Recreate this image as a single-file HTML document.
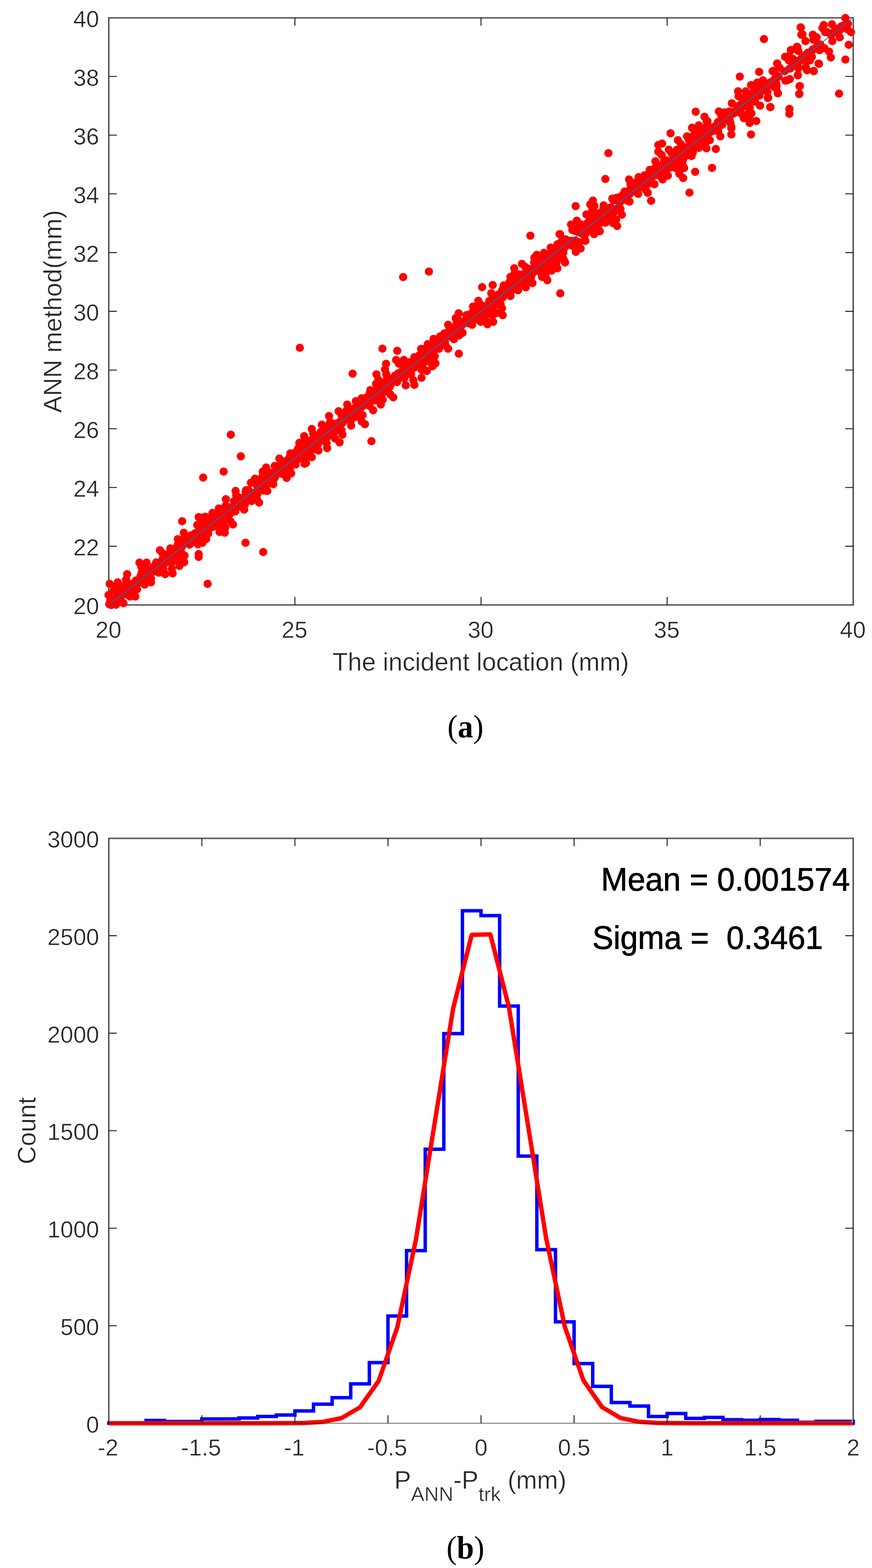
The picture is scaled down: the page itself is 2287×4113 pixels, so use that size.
<!DOCTYPE html>
<html lang="en"><head><meta charset="utf-8"><title>ANN method vs incident location</title>
<style>html,body{margin:0;padding:0;background:#fff}body{width:2287px;height:4113px;overflow:hidden}svg{display:block}text{font-family:"Liberation Sans",Arial,Helvetica,sans-serif;fill:#262626}.t{font-size:61px;stroke:#fff;stroke-width:.7px}.l{font-size:66px;stroke:#fff;stroke-width:.7px}.n{font-size:86px;fill:#000;stroke:#000;stroke-width:1.2px}.c{font-family:"Liberation Serif","DejaVu Serif",serif;fill:#000;font-size:84px}</style></head><body>
<svg width="2287" height="4113" viewBox="0 0 2287 4113">
<rect width="2287" height="4113" fill="#fff"/>
<g id="plot-a">
<path d="M285.35 48.80H2236.45" stroke="#b4b4b4" stroke-width="2.2" fill="none"/>
<path d="M282.85 45.00V1577.90" stroke="#ececec" stroke-width="2.4" fill="none"/>
<path d="M2235.35 47.80V1585.50" stroke="#e4e4e4" stroke-width="2.4" fill="none"/>
<g stroke="#262626" stroke-width="2.8" fill="none">
<path d="M283.95 46.40H2239.25" stroke="#4a4a4a"/>
<path d="M285.35 46.40V1588.30M2237.85 46.40V1588.30"/>
<path d="M285.35 1586.90H2237.85"/>
<path d="M773.48 1586.90v-21M773.48 46.40v21M1261.60 1586.90v-21M1261.60 46.40v21M1749.72 1586.90v-21M1749.72 46.40v21M285.35 1432.85h21M2237.85 1432.85h-21M285.35 1278.80h21M2237.85 1278.80h-21M285.35 1124.75h21M2237.85 1124.75h-21M285.35 970.70h21M2237.85 970.70h-21M285.35 816.65h21M2237.85 816.65h-21M285.35 662.60h21M2237.85 662.60h-21M285.35 508.55h21M2237.85 508.55h-21M285.35 354.50h21M2237.85 354.50h-21M285.35 200.45h21M2237.85 200.45h-21" stroke-width="2.6"/>
</g>
<g fill="#ff0000">
<circle cx="286.5" cy="1584.7" r="10.7"/>
<circle cx="289.0" cy="1575.3" r="10.7"/>
<circle cx="291.7" cy="1586.9" r="10.7"/>
<circle cx="297.0" cy="1585.0" r="10.7"/>
<circle cx="297.8" cy="1582.1" r="10.7"/>
<circle cx="302.0" cy="1572.7" r="10.7"/>
<circle cx="304.8" cy="1568.7" r="10.7"/>
<circle cx="307.2" cy="1561.4" r="10.7"/>
<circle cx="307.7" cy="1557.4" r="10.7"/>
<circle cx="309.8" cy="1564.0" r="10.7"/>
<circle cx="312.7" cy="1564.7" r="10.7"/>
<circle cx="315.2" cy="1574.8" r="10.7"/>
<circle cx="318.2" cy="1563.2" r="10.7"/>
<circle cx="321.6" cy="1543.5" r="10.7"/>
<circle cx="323.2" cy="1555.3" r="10.7"/>
<circle cx="326.0" cy="1546.7" r="10.7"/>
<circle cx="329.3" cy="1554.5" r="10.7"/>
<circle cx="331.7" cy="1559.1" r="10.7"/>
<circle cx="332.5" cy="1535.9" r="10.7"/>
<circle cx="334.7" cy="1547.0" r="10.7"/>
<circle cx="338.5" cy="1548.9" r="10.7"/>
<circle cx="340.0" cy="1549.7" r="10.7"/>
<circle cx="343.8" cy="1532.3" r="10.7"/>
<circle cx="346.0" cy="1546.2" r="10.7"/>
<circle cx="348.6" cy="1537.0" r="10.7"/>
<circle cx="350.0" cy="1546.4" r="10.7"/>
<circle cx="351.4" cy="1533.5" r="10.7"/>
<circle cx="355.2" cy="1533.2" r="10.7"/>
<circle cx="356.3" cy="1522.7" r="10.7"/>
<circle cx="359.4" cy="1545.6" r="10.7"/>
<circle cx="361.3" cy="1523.0" r="10.7"/>
<circle cx="364.1" cy="1527.8" r="10.7"/>
<circle cx="367.8" cy="1524.0" r="10.7"/>
<circle cx="368.8" cy="1510.5" r="10.7"/>
<circle cx="371.2" cy="1515.0" r="10.7"/>
<circle cx="375.0" cy="1526.4" r="10.7"/>
<circle cx="375.9" cy="1526.4" r="10.7"/>
<circle cx="379.1" cy="1514.8" r="10.7"/>
<circle cx="382.9" cy="1518.0" r="10.7"/>
<circle cx="384.9" cy="1501.1" r="10.7"/>
<circle cx="385.9" cy="1503.5" r="10.7"/>
<circle cx="389.9" cy="1501.4" r="10.7"/>
<circle cx="392.7" cy="1498.5" r="10.7"/>
<circle cx="393.3" cy="1500.8" r="10.7"/>
<circle cx="396.0" cy="1517.6" r="10.7"/>
<circle cx="398.3" cy="1501.8" r="10.7"/>
<circle cx="401.5" cy="1497.3" r="10.7"/>
<circle cx="403.1" cy="1485.9" r="10.7"/>
<circle cx="406.0" cy="1485.7" r="10.7"/>
<circle cx="409.7" cy="1475.2" r="10.7"/>
<circle cx="411.9" cy="1488.4" r="10.7"/>
<circle cx="412.7" cy="1499.4" r="10.7"/>
<circle cx="416.7" cy="1502.1" r="10.7"/>
<circle cx="417.8" cy="1488.8" r="10.7"/>
<circle cx="421.9" cy="1495.1" r="10.7"/>
<circle cx="422.5" cy="1482.6" r="10.7"/>
<circle cx="425.5" cy="1469.7" r="10.7"/>
<circle cx="427.2" cy="1465.1" r="10.7"/>
<circle cx="431.1" cy="1478.4" r="10.7"/>
<circle cx="432.4" cy="1477.2" r="10.7"/>
<circle cx="434.9" cy="1456.3" r="10.7"/>
<circle cx="437.1" cy="1466.4" r="10.7"/>
<circle cx="439.7" cy="1461.3" r="10.7"/>
<circle cx="442.9" cy="1471.2" r="10.7"/>
<circle cx="444.7" cy="1449.7" r="10.7"/>
<circle cx="448.7" cy="1458.6" r="10.7"/>
<circle cx="449.5" cy="1459.2" r="10.7"/>
<circle cx="452.4" cy="1461.1" r="10.7"/>
<circle cx="454.7" cy="1455.7" r="10.7"/>
<circle cx="457.6" cy="1457.7" r="10.7"/>
<circle cx="460.8" cy="1455.8" r="10.7"/>
<circle cx="463.5" cy="1437.5" r="10.7"/>
<circle cx="464.9" cy="1431.8" r="10.7"/>
<circle cx="466.3" cy="1446.1" r="10.7"/>
<circle cx="470.6" cy="1441.2" r="10.7"/>
<circle cx="472.5" cy="1441.3" r="10.7"/>
<circle cx="474.8" cy="1436.9" r="10.7"/>
<circle cx="476.9" cy="1434.7" r="10.7"/>
<circle cx="480.6" cy="1423.8" r="10.7"/>
<circle cx="480.8" cy="1416.3" r="10.7"/>
<circle cx="485.2" cy="1424.3" r="10.7"/>
<circle cx="487.3" cy="1422.3" r="10.7"/>
<circle cx="490.2" cy="1407.5" r="10.7"/>
<circle cx="491.2" cy="1415.6" r="10.7"/>
<circle cx="494.9" cy="1418.4" r="10.7"/>
<circle cx="497.2" cy="1428.7" r="10.7"/>
<circle cx="499.2" cy="1407.9" r="10.7"/>
<circle cx="501.1" cy="1404.3" r="10.7"/>
<circle cx="502.8" cy="1408.3" r="10.7"/>
<circle cx="506.6" cy="1421.0" r="10.7"/>
<circle cx="508.4" cy="1410.0" r="10.7"/>
<circle cx="511.7" cy="1398.5" r="10.7"/>
<circle cx="514.4" cy="1400.7" r="10.7"/>
<circle cx="515.0" cy="1405.7" r="10.7"/>
<circle cx="518.7" cy="1400.2" r="10.7"/>
<circle cx="520.8" cy="1403.1" r="10.7"/>
<circle cx="523.3" cy="1415.2" r="10.7"/>
<circle cx="526.0" cy="1404.1" r="10.7"/>
<circle cx="527.0" cy="1392.4" r="10.7"/>
<circle cx="530.1" cy="1390.7" r="10.7"/>
<circle cx="532.3" cy="1385.8" r="10.7"/>
<circle cx="536.5" cy="1382.7" r="10.7"/>
<circle cx="538.9" cy="1377.3" r="10.7"/>
<circle cx="540.0" cy="1382.5" r="10.7"/>
<circle cx="542.7" cy="1377.9" r="10.7"/>
<circle cx="546.0" cy="1399.7" r="10.7"/>
<circle cx="547.4" cy="1369.1" r="10.7"/>
<circle cx="550.4" cy="1375.5" r="10.7"/>
<circle cx="552.6" cy="1381.2" r="10.7"/>
<circle cx="555.9" cy="1383.0" r="10.7"/>
<circle cx="558.6" cy="1357.9" r="10.7"/>
<circle cx="559.4" cy="1376.3" r="10.7"/>
<circle cx="561.8" cy="1378.8" r="10.7"/>
<circle cx="564.1" cy="1354.4" r="10.7"/>
<circle cx="567.2" cy="1372.0" r="10.7"/>
<circle cx="569.2" cy="1378.7" r="10.7"/>
<circle cx="572.0" cy="1344.6" r="10.7"/>
<circle cx="573.4" cy="1361.7" r="10.7"/>
<circle cx="577.5" cy="1354.2" r="10.7"/>
<circle cx="579.6" cy="1348.0" r="10.7"/>
<circle cx="580.7" cy="1371.1" r="10.7"/>
<circle cx="583.4" cy="1349.5" r="10.7"/>
<circle cx="587.6" cy="1349.1" r="10.7"/>
<circle cx="588.6" cy="1349.7" r="10.7"/>
<circle cx="592.0" cy="1347.5" r="10.7"/>
<circle cx="594.0" cy="1333.0" r="10.7"/>
<circle cx="597.3" cy="1329.7" r="10.7"/>
<circle cx="600.1" cy="1335.8" r="10.7"/>
<circle cx="601.4" cy="1331.2" r="10.7"/>
<circle cx="603.1" cy="1348.0" r="10.7"/>
<circle cx="606.8" cy="1334.1" r="10.7"/>
<circle cx="607.9" cy="1331.0" r="10.7"/>
<circle cx="611.7" cy="1339.0" r="10.7"/>
<circle cx="613.7" cy="1314.7" r="10.7"/>
<circle cx="615.8" cy="1314.6" r="10.7"/>
<circle cx="619.2" cy="1327.2" r="10.7"/>
<circle cx="622.0" cy="1318.8" r="10.7"/>
<circle cx="623.9" cy="1327.6" r="10.7"/>
<circle cx="626.1" cy="1326.4" r="10.7"/>
<circle cx="629.3" cy="1305.9" r="10.7"/>
<circle cx="631.6" cy="1323.2" r="10.7"/>
<circle cx="633.9" cy="1322.9" r="10.7"/>
<circle cx="635.9" cy="1306.3" r="10.7"/>
<circle cx="637.3" cy="1305.8" r="10.7"/>
<circle cx="640.8" cy="1314.7" r="10.7"/>
<circle cx="642.2" cy="1323.5" r="10.7"/>
<circle cx="645.4" cy="1285.6" r="10.7"/>
<circle cx="648.5" cy="1290.6" r="10.7"/>
<circle cx="651.1" cy="1292.6" r="10.7"/>
<circle cx="651.6" cy="1285.6" r="10.7"/>
<circle cx="655.8" cy="1299.4" r="10.7"/>
<circle cx="657.5" cy="1312.0" r="10.7"/>
<circle cx="658.9" cy="1295.5" r="10.7"/>
<circle cx="663.2" cy="1293.2" r="10.7"/>
<circle cx="665.6" cy="1295.3" r="10.7"/>
<circle cx="666.4" cy="1293.7" r="10.7"/>
<circle cx="670.3" cy="1293.3" r="10.7"/>
<circle cx="673.0" cy="1271.7" r="10.7"/>
<circle cx="674.6" cy="1296.8" r="10.7"/>
<circle cx="676.1" cy="1280.9" r="10.7"/>
<circle cx="679.0" cy="1288.9" r="10.7"/>
<circle cx="682.5" cy="1265.4" r="10.7"/>
<circle cx="685.2" cy="1261.7" r="10.7"/>
<circle cx="687.0" cy="1266.1" r="10.7"/>
<circle cx="690.1" cy="1277.0" r="10.7"/>
<circle cx="692.7" cy="1270.8" r="10.7"/>
<circle cx="695.3" cy="1264.4" r="10.7"/>
<circle cx="696.8" cy="1266.2" r="10.7"/>
<circle cx="699.0" cy="1272.8" r="10.7"/>
<circle cx="701.7" cy="1259.0" r="10.7"/>
<circle cx="703.7" cy="1261.6" r="10.7"/>
<circle cx="707.1" cy="1242.9" r="10.7"/>
<circle cx="709.3" cy="1247.8" r="10.7"/>
<circle cx="710.2" cy="1241.2" r="10.7"/>
<circle cx="714.8" cy="1245.5" r="10.7"/>
<circle cx="717.2" cy="1244.8" r="10.7"/>
<circle cx="717.7" cy="1257.6" r="10.7"/>
<circle cx="720.8" cy="1252.3" r="10.7"/>
<circle cx="723.4" cy="1234.3" r="10.7"/>
<circle cx="725.1" cy="1222.4" r="10.7"/>
<circle cx="727.4" cy="1222.1" r="10.7"/>
<circle cx="731.4" cy="1241.7" r="10.7"/>
<circle cx="732.5" cy="1235.1" r="10.7"/>
<circle cx="736.1" cy="1227.0" r="10.7"/>
<circle cx="738.4" cy="1238.3" r="10.7"/>
<circle cx="739.6" cy="1227.9" r="10.7"/>
<circle cx="743.0" cy="1220.5" r="10.7"/>
<circle cx="744.8" cy="1228.5" r="10.7"/>
<circle cx="747.7" cy="1234.3" r="10.7"/>
<circle cx="750.0" cy="1209.3" r="10.7"/>
<circle cx="751.9" cy="1225.4" r="10.7"/>
<circle cx="754.4" cy="1206.7" r="10.7"/>
<circle cx="757.7" cy="1203.3" r="10.7"/>
<circle cx="760.9" cy="1196.0" r="10.7"/>
<circle cx="761.8" cy="1197.7" r="10.7"/>
<circle cx="765.5" cy="1216.4" r="10.7"/>
<circle cx="766.9" cy="1199.9" r="10.7"/>
<circle cx="770.8" cy="1211.3" r="10.7"/>
<circle cx="773.2" cy="1188.1" r="10.7"/>
<circle cx="774.1" cy="1200.1" r="10.7"/>
<circle cx="776.2" cy="1191.6" r="10.7"/>
<circle cx="780.4" cy="1180.1" r="10.7"/>
<circle cx="781.1" cy="1204.5" r="10.7"/>
<circle cx="784.2" cy="1192.5" r="10.7"/>
<circle cx="786.2" cy="1189.9" r="10.7"/>
<circle cx="789.8" cy="1174.3" r="10.7"/>
<circle cx="791.8" cy="1172.8" r="10.7"/>
<circle cx="794.9" cy="1169.0" r="10.7"/>
<circle cx="795.9" cy="1183.8" r="10.7"/>
<circle cx="798.1" cy="1184.7" r="10.7"/>
<circle cx="801.7" cy="1181.3" r="10.7"/>
<circle cx="804.0" cy="1172.3" r="10.7"/>
<circle cx="805.7" cy="1173.9" r="10.7"/>
<circle cx="808.1" cy="1191.5" r="10.7"/>
<circle cx="812.3" cy="1155.7" r="10.7"/>
<circle cx="812.7" cy="1181.9" r="10.7"/>
<circle cx="816.8" cy="1164.1" r="10.7"/>
<circle cx="818.2" cy="1154.2" r="10.7"/>
<circle cx="820.9" cy="1167.0" r="10.7"/>
<circle cx="823.8" cy="1178.3" r="10.7"/>
<circle cx="826.8" cy="1161.1" r="10.7"/>
<circle cx="827.6" cy="1142.6" r="10.7"/>
<circle cx="830.6" cy="1161.6" r="10.7"/>
<circle cx="832.5" cy="1161.6" r="10.7"/>
<circle cx="834.5" cy="1164.4" r="10.7"/>
<circle cx="839.1" cy="1155.2" r="10.7"/>
<circle cx="841.5" cy="1132.7" r="10.7"/>
<circle cx="843.3" cy="1135.0" r="10.7"/>
<circle cx="845.5" cy="1152.9" r="10.7"/>
<circle cx="849.1" cy="1144.8" r="10.7"/>
<circle cx="851.4" cy="1132.7" r="10.7"/>
<circle cx="853.4" cy="1142.1" r="10.7"/>
<circle cx="855.0" cy="1118.6" r="10.7"/>
<circle cx="858.6" cy="1146.3" r="10.7"/>
<circle cx="860.8" cy="1121.9" r="10.7"/>
<circle cx="863.2" cy="1117.1" r="10.7"/>
<circle cx="864.0" cy="1139.7" r="10.7"/>
<circle cx="867.1" cy="1126.4" r="10.7"/>
<circle cx="869.5" cy="1126.3" r="10.7"/>
<circle cx="872.7" cy="1118.1" r="10.7"/>
<circle cx="875.8" cy="1115.7" r="10.7"/>
<circle cx="877.6" cy="1111.6" r="10.7"/>
<circle cx="879.8" cy="1130.9" r="10.7"/>
<circle cx="882.2" cy="1121.4" r="10.7"/>
<circle cx="885.0" cy="1123.7" r="10.7"/>
<circle cx="888.1" cy="1125.6" r="10.7"/>
<circle cx="890.0" cy="1111.9" r="10.7"/>
<circle cx="891.3" cy="1106.1" r="10.7"/>
<circle cx="893.5" cy="1109.0" r="10.7"/>
<circle cx="896.4" cy="1111.2" r="10.7"/>
<circle cx="900.2" cy="1106.4" r="10.7"/>
<circle cx="901.7" cy="1103.2" r="10.7"/>
<circle cx="905.3" cy="1096.5" r="10.7"/>
<circle cx="906.8" cy="1098.1" r="10.7"/>
<circle cx="909.2" cy="1090.8" r="10.7"/>
<circle cx="912.0" cy="1079.6" r="10.7"/>
<circle cx="913.7" cy="1097.8" r="10.7"/>
<circle cx="915.4" cy="1075.4" r="10.7"/>
<circle cx="917.6" cy="1088.5" r="10.7"/>
<circle cx="922.2" cy="1073.2" r="10.7"/>
<circle cx="923.8" cy="1089.3" r="10.7"/>
<circle cx="925.7" cy="1078.3" r="10.7"/>
<circle cx="928.6" cy="1094.2" r="10.7"/>
<circle cx="930.4" cy="1076.2" r="10.7"/>
<circle cx="932.1" cy="1068.0" r="10.7"/>
<circle cx="935.2" cy="1080.1" r="10.7"/>
<circle cx="938.8" cy="1072.9" r="10.7"/>
<circle cx="940.4" cy="1084.0" r="10.7"/>
<circle cx="942.0" cy="1058.4" r="10.7"/>
<circle cx="946.7" cy="1068.9" r="10.7"/>
<circle cx="949.0" cy="1061.9" r="10.7"/>
<circle cx="950.2" cy="1052.6" r="10.7"/>
<circle cx="952.9" cy="1064.1" r="10.7"/>
<circle cx="956.4" cy="1055.5" r="10.7"/>
<circle cx="958.9" cy="1043.9" r="10.7"/>
<circle cx="961.0" cy="1049.7" r="10.7"/>
<circle cx="962.9" cy="1049.2" r="10.7"/>
<circle cx="965.0" cy="1051.7" r="10.7"/>
<circle cx="967.6" cy="1051.9" r="10.7"/>
<circle cx="969.0" cy="1033.0" r="10.7"/>
<circle cx="972.3" cy="1050.4" r="10.7"/>
<circle cx="974.2" cy="1033.9" r="10.7"/>
<circle cx="977.9" cy="1035.1" r="10.7"/>
<circle cx="979.8" cy="1047.9" r="10.7"/>
<circle cx="981.5" cy="1037.3" r="10.7"/>
<circle cx="983.6" cy="1050.3" r="10.7"/>
<circle cx="987.3" cy="1021.6" r="10.7"/>
<circle cx="989.1" cy="1029.5" r="10.7"/>
<circle cx="992.1" cy="1045.0" r="10.7"/>
<circle cx="994.6" cy="1015.6" r="10.7"/>
<circle cx="996.0" cy="1013.2" r="10.7"/>
<circle cx="998.6" cy="1038.5" r="10.7"/>
<circle cx="1000.5" cy="1019.7" r="10.7"/>
<circle cx="1003.0" cy="1019.2" r="10.7"/>
<circle cx="1006.9" cy="1028.5" r="10.7"/>
<circle cx="1008.0" cy="1012.8" r="10.7"/>
<circle cx="1010.4" cy="1013.8" r="10.7"/>
<circle cx="1014.3" cy="997.7" r="10.7"/>
<circle cx="1016.0" cy="1005.8" r="10.7"/>
<circle cx="1018.7" cy="1010.6" r="10.7"/>
<circle cx="1021.8" cy="1015.2" r="10.7"/>
<circle cx="1024.5" cy="1008.5" r="10.7"/>
<circle cx="1026.8" cy="1004.3" r="10.7"/>
<circle cx="1028.8" cy="1001.2" r="10.7"/>
<circle cx="1030.8" cy="991.6" r="10.7"/>
<circle cx="1032.8" cy="1000.8" r="10.7"/>
<circle cx="1036.2" cy="985.1" r="10.7"/>
<circle cx="1039.5" cy="985.9" r="10.7"/>
<circle cx="1041.3" cy="1002.2" r="10.7"/>
<circle cx="1044.2" cy="979.2" r="10.7"/>
<circle cx="1044.6" cy="992.2" r="10.7"/>
<circle cx="1049.0" cy="988.3" r="10.7"/>
<circle cx="1050.6" cy="985.2" r="10.7"/>
<circle cx="1052.9" cy="977.8" r="10.7"/>
<circle cx="1056.0" cy="970.7" r="10.7"/>
<circle cx="1056.8" cy="981.8" r="10.7"/>
<circle cx="1059.2" cy="991.3" r="10.7"/>
<circle cx="1062.2" cy="971.5" r="10.7"/>
<circle cx="1064.6" cy="956.2" r="10.7"/>
<circle cx="1066.7" cy="959.9" r="10.7"/>
<circle cx="1069.7" cy="981.2" r="10.7"/>
<circle cx="1071.5" cy="963.2" r="10.7"/>
<circle cx="1075.9" cy="950.0" r="10.7"/>
<circle cx="1078.4" cy="970.8" r="10.7"/>
<circle cx="1080.5" cy="953.7" r="10.7"/>
<circle cx="1081.7" cy="954.2" r="10.7"/>
<circle cx="1085.7" cy="965.0" r="10.7"/>
<circle cx="1088.1" cy="953.7" r="10.7"/>
<circle cx="1089.2" cy="962.6" r="10.7"/>
<circle cx="1091.6" cy="942.5" r="10.7"/>
<circle cx="1093.7" cy="955.5" r="10.7"/>
<circle cx="1097.0" cy="950.3" r="10.7"/>
<circle cx="1100.1" cy="931.6" r="10.7"/>
<circle cx="1101.9" cy="950.5" r="10.7"/>
<circle cx="1105.1" cy="955.9" r="10.7"/>
<circle cx="1106.1" cy="951.8" r="10.7"/>
<circle cx="1109.2" cy="938.7" r="10.7"/>
<circle cx="1111.7" cy="949.8" r="10.7"/>
<circle cx="1114.7" cy="929.4" r="10.7"/>
<circle cx="1115.3" cy="914.4" r="10.7"/>
<circle cx="1117.8" cy="924.8" r="10.7"/>
<circle cx="1120.2" cy="926.4" r="10.7"/>
<circle cx="1122.7" cy="931.3" r="10.7"/>
<circle cx="1125.3" cy="923.8" r="10.7"/>
<circle cx="1128.0" cy="907.0" r="10.7"/>
<circle cx="1130.3" cy="921.4" r="10.7"/>
<circle cx="1134.1" cy="904.6" r="10.7"/>
<circle cx="1135.7" cy="901.6" r="10.7"/>
<circle cx="1138.8" cy="913.3" r="10.7"/>
<circle cx="1140.9" cy="908.9" r="10.7"/>
<circle cx="1144.2" cy="893.1" r="10.7"/>
<circle cx="1145.5" cy="915.4" r="10.7"/>
<circle cx="1149.0" cy="891.8" r="10.7"/>
<circle cx="1151.3" cy="914.7" r="10.7"/>
<circle cx="1154.1" cy="882.5" r="10.7"/>
<circle cx="1155.8" cy="883.9" r="10.7"/>
<circle cx="1158.6" cy="895.5" r="10.7"/>
<circle cx="1160.1" cy="891.6" r="10.7"/>
<circle cx="1163.3" cy="897.0" r="10.7"/>
<circle cx="1166.4" cy="887.3" r="10.7"/>
<circle cx="1166.9" cy="895.8" r="10.7"/>
<circle cx="1169.9" cy="881.8" r="10.7"/>
<circle cx="1171.4" cy="880.5" r="10.7"/>
<circle cx="1174.0" cy="874.9" r="10.7"/>
<circle cx="1176.6" cy="869.2" r="10.7"/>
<circle cx="1178.8" cy="868.6" r="10.7"/>
<circle cx="1183.3" cy="882.0" r="10.7"/>
<circle cx="1183.6" cy="883.4" r="10.7"/>
<circle cx="1186.5" cy="880.1" r="10.7"/>
<circle cx="1189.0" cy="871.1" r="10.7"/>
<circle cx="1191.4" cy="858.3" r="10.7"/>
<circle cx="1193.7" cy="869.0" r="10.7"/>
<circle cx="1197.6" cy="873.5" r="10.7"/>
<circle cx="1198.9" cy="847.7" r="10.7"/>
<circle cx="1201.8" cy="858.1" r="10.7"/>
<circle cx="1203.7" cy="880.0" r="10.7"/>
<circle cx="1206.3" cy="845.2" r="10.7"/>
<circle cx="1209.2" cy="869.5" r="10.7"/>
<circle cx="1210.9" cy="853.5" r="10.7"/>
<circle cx="1212.9" cy="872.8" r="10.7"/>
<circle cx="1216.2" cy="846.4" r="10.7"/>
<circle cx="1219.0" cy="842.0" r="10.7"/>
<circle cx="1222.5" cy="846.6" r="10.7"/>
<circle cx="1224.2" cy="846.3" r="10.7"/>
<circle cx="1226.1" cy="846.2" r="10.7"/>
<circle cx="1228.3" cy="847.7" r="10.7"/>
<circle cx="1231.4" cy="824.7" r="10.7"/>
<circle cx="1232.7" cy="844.5" r="10.7"/>
<circle cx="1235.4" cy="845.0" r="10.7"/>
<circle cx="1239.3" cy="819.4" r="10.7"/>
<circle cx="1242.1" cy="830.6" r="10.7"/>
<circle cx="1242.7" cy="825.7" r="10.7"/>
<circle cx="1246.4" cy="827.4" r="10.7"/>
<circle cx="1247.0" cy="837.0" r="10.7"/>
<circle cx="1251.4" cy="806.5" r="10.7"/>
<circle cx="1252.0" cy="822.1" r="10.7"/>
<circle cx="1254.5" cy="838.7" r="10.7"/>
<circle cx="1257.9" cy="822.9" r="10.7"/>
<circle cx="1261.3" cy="822.0" r="10.7"/>
<circle cx="1262.3" cy="818.7" r="10.7"/>
<circle cx="1266.3" cy="802.4" r="10.7"/>
<circle cx="1266.7" cy="815.9" r="10.7"/>
<circle cx="1270.2" cy="803.5" r="10.7"/>
<circle cx="1272.6" cy="818.8" r="10.7"/>
<circle cx="1274.6" cy="822.9" r="10.7"/>
<circle cx="1277.0" cy="812.4" r="10.7"/>
<circle cx="1279.8" cy="806.4" r="10.7"/>
<circle cx="1282.9" cy="789.7" r="10.7"/>
<circle cx="1283.8" cy="811.4" r="10.7"/>
<circle cx="1287.0" cy="809.2" r="10.7"/>
<circle cx="1290.0" cy="800.7" r="10.7"/>
<circle cx="1290.9" cy="781.7" r="10.7"/>
<circle cx="1293.9" cy="802.6" r="10.7"/>
<circle cx="1297.1" cy="787.1" r="10.7"/>
<circle cx="1300.6" cy="786.3" r="10.7"/>
<circle cx="1302.6" cy="788.2" r="10.7"/>
<circle cx="1303.8" cy="797.3" r="10.7"/>
<circle cx="1306.4" cy="772.7" r="10.7"/>
<circle cx="1308.8" cy="777.2" r="10.7"/>
<circle cx="1311.4" cy="773.4" r="10.7"/>
<circle cx="1313.3" cy="768.9" r="10.7"/>
<circle cx="1317.1" cy="760.8" r="10.7"/>
<circle cx="1319.1" cy="779.8" r="10.7"/>
<circle cx="1321.0" cy="771.9" r="10.7"/>
<circle cx="1323.0" cy="764.2" r="10.7"/>
<circle cx="1325.3" cy="759.2" r="10.7"/>
<circle cx="1327.9" cy="749.6" r="10.7"/>
<circle cx="1330.9" cy="769.2" r="10.7"/>
<circle cx="1332.6" cy="748.7" r="10.7"/>
<circle cx="1335.4" cy="761.4" r="10.7"/>
<circle cx="1338.3" cy="760.7" r="10.7"/>
<circle cx="1339.9" cy="764.6" r="10.7"/>
<circle cx="1343.4" cy="746.8" r="10.7"/>
<circle cx="1346.2" cy="752.0" r="10.7"/>
<circle cx="1348.0" cy="742.1" r="10.7"/>
<circle cx="1350.5" cy="757.1" r="10.7"/>
<circle cx="1353.6" cy="745.1" r="10.7"/>
<circle cx="1356.7" cy="745.4" r="10.7"/>
<circle cx="1358.3" cy="725.5" r="10.7"/>
<circle cx="1359.3" cy="734.9" r="10.7"/>
<circle cx="1363.3" cy="744.8" r="10.7"/>
<circle cx="1364.4" cy="726.6" r="10.7"/>
<circle cx="1368.5" cy="741.0" r="10.7"/>
<circle cx="1371.0" cy="725.6" r="10.7"/>
<circle cx="1373.3" cy="724.6" r="10.7"/>
<circle cx="1376.1" cy="717.0" r="10.7"/>
<circle cx="1377.5" cy="722.3" r="10.7"/>
<circle cx="1379.1" cy="716.9" r="10.7"/>
<circle cx="1382.5" cy="729.5" r="10.7"/>
<circle cx="1385.7" cy="727.0" r="10.7"/>
<circle cx="1387.6" cy="705.8" r="10.7"/>
<circle cx="1388.7" cy="716.8" r="10.7"/>
<circle cx="1392.7" cy="726.9" r="10.7"/>
<circle cx="1394.2" cy="721.0" r="10.7"/>
<circle cx="1397.0" cy="705.6" r="10.7"/>
<circle cx="1398.6" cy="714.1" r="10.7"/>
<circle cx="1402.9" cy="704.2" r="10.7"/>
<circle cx="1404.5" cy="691.5" r="10.7"/>
<circle cx="1406.2" cy="697.5" r="10.7"/>
<circle cx="1410.3" cy="703.2" r="10.7"/>
<circle cx="1410.8" cy="698.0" r="10.7"/>
<circle cx="1414.9" cy="690.3" r="10.7"/>
<circle cx="1415.9" cy="697.7" r="10.7"/>
<circle cx="1419.8" cy="697.0" r="10.7"/>
<circle cx="1420.4" cy="703.4" r="10.7"/>
<circle cx="1422.8" cy="702.6" r="10.7"/>
<circle cx="1427.4" cy="691.8" r="10.7"/>
<circle cx="1428.3" cy="677.0" r="10.7"/>
<circle cx="1430.9" cy="668.0" r="10.7"/>
<circle cx="1433.9" cy="681.3" r="10.7"/>
<circle cx="1435.4" cy="677.8" r="10.7"/>
<circle cx="1438.5" cy="683.5" r="10.7"/>
<circle cx="1441.2" cy="683.1" r="10.7"/>
<circle cx="1442.6" cy="665.7" r="10.7"/>
<circle cx="1446.0" cy="670.1" r="10.7"/>
<circle cx="1447.9" cy="667.8" r="10.7"/>
<circle cx="1451.2" cy="664.8" r="10.7"/>
<circle cx="1452.3" cy="679.9" r="10.7"/>
<circle cx="1455.6" cy="660.0" r="10.7"/>
<circle cx="1457.9" cy="650.4" r="10.7"/>
<circle cx="1461.1" cy="648.0" r="10.7"/>
<circle cx="1463.6" cy="670.2" r="10.7"/>
<circle cx="1466.3" cy="658.2" r="10.7"/>
<circle cx="1467.6" cy="641.8" r="10.7"/>
<circle cx="1471.3" cy="656.7" r="10.7"/>
<circle cx="1472.8" cy="639.1" r="10.7"/>
<circle cx="1476.1" cy="645.6" r="10.7"/>
<circle cx="1477.2" cy="662.4" r="10.7"/>
<circle cx="1481.0" cy="649.2" r="10.7"/>
<circle cx="1483.0" cy="627.7" r="10.7"/>
<circle cx="1484.4" cy="630.8" r="10.7"/>
<circle cx="1487.6" cy="643.2" r="10.7"/>
<circle cx="1489.7" cy="639.0" r="10.7"/>
<circle cx="1492.2" cy="632.0" r="10.7"/>
<circle cx="1495.2" cy="634.4" r="10.7"/>
<circle cx="1497.2" cy="631.4" r="10.7"/>
<circle cx="1499.3" cy="638.0" r="10.7"/>
<circle cx="1501.4" cy="645.2" r="10.7"/>
<circle cx="1504.8" cy="634.3" r="10.7"/>
<circle cx="1507.8" cy="605.8" r="10.7"/>
<circle cx="1508.6" cy="630.7" r="10.7"/>
<circle cx="1512.4" cy="603.5" r="10.7"/>
<circle cx="1514.9" cy="607.6" r="10.7"/>
<circle cx="1515.7" cy="597.2" r="10.7"/>
<circle cx="1518.5" cy="608.0" r="10.7"/>
<circle cx="1521.0" cy="610.3" r="10.7"/>
<circle cx="1524.9" cy="612.2" r="10.7"/>
<circle cx="1527.2" cy="599.3" r="10.7"/>
<circle cx="1529.1" cy="611.5" r="10.7"/>
<circle cx="1530.2" cy="597.4" r="10.7"/>
<circle cx="1533.7" cy="606.3" r="10.7"/>
<circle cx="1537.2" cy="610.9" r="10.7"/>
<circle cx="1537.9" cy="597.0" r="10.7"/>
<circle cx="1540.6" cy="585.0" r="10.7"/>
<circle cx="1544.3" cy="583.2" r="10.7"/>
<circle cx="1545.6" cy="586.3" r="10.7"/>
<circle cx="1549.3" cy="590.8" r="10.7"/>
<circle cx="1552.0" cy="591.9" r="10.7"/>
<circle cx="1552.5" cy="601.2" r="10.7"/>
<circle cx="1556.6" cy="588.6" r="10.7"/>
<circle cx="1558.7" cy="583.8" r="10.7"/>
<circle cx="1560.1" cy="598.2" r="10.7"/>
<circle cx="1563.5" cy="566.1" r="10.7"/>
<circle cx="1564.6" cy="569.4" r="10.7"/>
<circle cx="1567.8" cy="559.1" r="10.7"/>
<circle cx="1569.7" cy="567.8" r="10.7"/>
<circle cx="1572.0" cy="587.1" r="10.7"/>
<circle cx="1574.4" cy="571.2" r="10.7"/>
<circle cx="1578.4" cy="582.1" r="10.7"/>
<circle cx="1579.8" cy="554.2" r="10.7"/>
<circle cx="1582.8" cy="544.8" r="10.7"/>
<circle cx="1584.3" cy="554.5" r="10.7"/>
<circle cx="1587.8" cy="550.8" r="10.7"/>
<circle cx="1590.2" cy="555.1" r="10.7"/>
<circle cx="1592.4" cy="571.7" r="10.7"/>
<circle cx="1594.8" cy="567.3" r="10.7"/>
<circle cx="1596.7" cy="556.3" r="10.7"/>
<circle cx="1599.0" cy="551.9" r="10.7"/>
<circle cx="1601.5" cy="544.2" r="10.7"/>
<circle cx="1605.1" cy="545.8" r="10.7"/>
<circle cx="1607.1" cy="552.5" r="10.7"/>
<circle cx="1608.6" cy="525.1" r="10.7"/>
<circle cx="1611.7" cy="521.7" r="10.7"/>
<circle cx="1614.9" cy="519.9" r="10.7"/>
<circle cx="1616.7" cy="552.4" r="10.7"/>
<circle cx="1618.4" cy="521.0" r="10.7"/>
<circle cx="1621.2" cy="527.7" r="10.7"/>
<circle cx="1624.4" cy="533.0" r="10.7"/>
<circle cx="1626.5" cy="516.4" r="10.7"/>
<circle cx="1629.8" cy="521.1" r="10.7"/>
<circle cx="1632.5" cy="512.4" r="10.7"/>
<circle cx="1633.0" cy="524.8" r="10.7"/>
<circle cx="1636.5" cy="514.7" r="10.7"/>
<circle cx="1638.0" cy="502.9" r="10.7"/>
<circle cx="1641.8" cy="523.2" r="10.7"/>
<circle cx="1644.3" cy="515.8" r="10.7"/>
<circle cx="1645.3" cy="526.0" r="10.7"/>
<circle cx="1648.6" cy="508.5" r="10.7"/>
<circle cx="1651.1" cy="509.3" r="10.7"/>
<circle cx="1653.8" cy="495.0" r="10.7"/>
<circle cx="1654.9" cy="497.0" r="10.7"/>
<circle cx="1657.0" cy="493.5" r="10.7"/>
<circle cx="1660.5" cy="502.2" r="10.7"/>
<circle cx="1662.5" cy="501.6" r="10.7"/>
<circle cx="1666.5" cy="493.3" r="10.7"/>
<circle cx="1668.1" cy="478.1" r="10.7"/>
<circle cx="1669.8" cy="489.6" r="10.7"/>
<circle cx="1672.0" cy="491.7" r="10.7"/>
<circle cx="1674.8" cy="493.5" r="10.7"/>
<circle cx="1678.0" cy="480.0" r="10.7"/>
<circle cx="1680.4" cy="484.9" r="10.7"/>
<circle cx="1681.6" cy="488.0" r="10.7"/>
<circle cx="1684.5" cy="477.2" r="10.7"/>
<circle cx="1686.7" cy="474.1" r="10.7"/>
<circle cx="1690.6" cy="459.8" r="10.7"/>
<circle cx="1691.3" cy="469.2" r="10.7"/>
<circle cx="1694.1" cy="480.7" r="10.7"/>
<circle cx="1698.4" cy="483.7" r="10.7"/>
<circle cx="1700.3" cy="473.7" r="10.7"/>
<circle cx="1703.3" cy="475.2" r="10.7"/>
<circle cx="1705.2" cy="475.8" r="10.7"/>
<circle cx="1705.9" cy="467.4" r="10.7"/>
<circle cx="1708.6" cy="459.9" r="10.7"/>
<circle cx="1711.4" cy="458.1" r="10.7"/>
<circle cx="1713.2" cy="462.2" r="10.7"/>
<circle cx="1718.0" cy="458.0" r="10.7"/>
<circle cx="1718.6" cy="439.2" r="10.7"/>
<circle cx="1721.1" cy="446.8" r="10.7"/>
<circle cx="1724.0" cy="449.3" r="10.7"/>
<circle cx="1727.6" cy="442.8" r="10.7"/>
<circle cx="1730.2" cy="454.1" r="10.7"/>
<circle cx="1731.7" cy="456.0" r="10.7"/>
<circle cx="1734.2" cy="446.4" r="10.7"/>
<circle cx="1735.2" cy="434.1" r="10.7"/>
<circle cx="1739.6" cy="452.9" r="10.7"/>
<circle cx="1741.4" cy="446.9" r="10.7"/>
<circle cx="1743.4" cy="428.9" r="10.7"/>
<circle cx="1746.9" cy="420.4" r="10.7"/>
<circle cx="1747.8" cy="445.4" r="10.7"/>
<circle cx="1750.6" cy="436.2" r="10.7"/>
<circle cx="1752.6" cy="441.3" r="10.7"/>
<circle cx="1755.1" cy="429.9" r="10.7"/>
<circle cx="1757.8" cy="436.6" r="10.7"/>
<circle cx="1760.6" cy="438.7" r="10.7"/>
<circle cx="1764.0" cy="419.6" r="10.7"/>
<circle cx="1764.9" cy="416.6" r="10.7"/>
<circle cx="1768.5" cy="419.4" r="10.7"/>
<circle cx="1770.1" cy="415.1" r="10.7"/>
<circle cx="1772.1" cy="415.8" r="10.7"/>
<circle cx="1774.8" cy="393.2" r="10.7"/>
<circle cx="1778.3" cy="423.7" r="10.7"/>
<circle cx="1779.7" cy="404.0" r="10.7"/>
<circle cx="1783.7" cy="409.3" r="10.7"/>
<circle cx="1784.8" cy="405.5" r="10.7"/>
<circle cx="1788.5" cy="384.2" r="10.7"/>
<circle cx="1788.8" cy="396.2" r="10.7"/>
<circle cx="1791.4" cy="407.9" r="10.7"/>
<circle cx="1795.8" cy="387.0" r="10.7"/>
<circle cx="1797.4" cy="409.9" r="10.7"/>
<circle cx="1798.7" cy="386.8" r="10.7"/>
<circle cx="1801.1" cy="394.0" r="10.7"/>
<circle cx="1803.8" cy="387.5" r="10.7"/>
<circle cx="1806.6" cy="385.7" r="10.7"/>
<circle cx="1809.3" cy="381.1" r="10.7"/>
<circle cx="1812.5" cy="381.0" r="10.7"/>
<circle cx="1813.8" cy="379.5" r="10.7"/>
<circle cx="1816.0" cy="369.6" r="10.7"/>
<circle cx="1818.6" cy="375.2" r="10.7"/>
<circle cx="1821.5" cy="385.1" r="10.7"/>
<circle cx="1823.9" cy="376.2" r="10.7"/>
<circle cx="1826.1" cy="367.7" r="10.7"/>
<circle cx="1828.7" cy="369.6" r="10.7"/>
<circle cx="1830.3" cy="369.8" r="10.7"/>
<circle cx="1834.2" cy="353.9" r="10.7"/>
<circle cx="1837.5" cy="357.4" r="10.7"/>
<circle cx="1838.3" cy="354.5" r="10.7"/>
<circle cx="1840.6" cy="364.4" r="10.7"/>
<circle cx="1844.1" cy="350.7" r="10.7"/>
<circle cx="1846.5" cy="351.5" r="10.7"/>
<circle cx="1847.6" cy="348.4" r="10.7"/>
<circle cx="1849.9" cy="355.3" r="10.7"/>
<circle cx="1853.2" cy="346.3" r="10.7"/>
<circle cx="1855.4" cy="355.0" r="10.7"/>
<circle cx="1857.5" cy="340.4" r="10.7"/>
<circle cx="1860.0" cy="348.9" r="10.7"/>
<circle cx="1863.6" cy="341.9" r="10.7"/>
<circle cx="1865.3" cy="343.3" r="10.7"/>
<circle cx="1867.9" cy="343.4" r="10.7"/>
<circle cx="1871.0" cy="342.9" r="10.7"/>
<circle cx="1873.1" cy="333.7" r="10.7"/>
<circle cx="1875.2" cy="331.2" r="10.7"/>
<circle cx="1877.5" cy="336.9" r="10.7"/>
<circle cx="1879.2" cy="331.9" r="10.7"/>
<circle cx="1882.7" cy="320.2" r="10.7"/>
<circle cx="1884.8" cy="321.2" r="10.7"/>
<circle cx="1887.0" cy="329.2" r="10.7"/>
<circle cx="1891.0" cy="320.9" r="10.7"/>
<circle cx="1892.7" cy="318.0" r="10.7"/>
<circle cx="1894.2" cy="327.3" r="10.7"/>
<circle cx="1897.3" cy="311.8" r="10.7"/>
<circle cx="1900.0" cy="302.1" r="10.7"/>
<circle cx="1903.3" cy="311.6" r="10.7"/>
<circle cx="1905.0" cy="299.8" r="10.7"/>
<circle cx="1906.9" cy="302.9" r="10.7"/>
<circle cx="1910.4" cy="307.4" r="10.7"/>
<circle cx="1913.0" cy="292.1" r="10.7"/>
<circle cx="1913.3" cy="312.2" r="10.7"/>
<circle cx="1916.0" cy="294.7" r="10.7"/>
<circle cx="1919.0" cy="297.7" r="10.7"/>
<circle cx="1923.0" cy="297.4" r="10.7"/>
<circle cx="1923.6" cy="297.9" r="10.7"/>
<circle cx="1927.1" cy="291.6" r="10.7"/>
<circle cx="1929.2" cy="290.2" r="10.7"/>
<circle cx="1931.3" cy="288.8" r="10.7"/>
<circle cx="1934.4" cy="293.5" r="10.7"/>
<circle cx="1936.6" cy="278.1" r="10.7"/>
<circle cx="1939.7" cy="275.7" r="10.7"/>
<circle cx="1942.5" cy="276.4" r="10.7"/>
<circle cx="1944.7" cy="283.0" r="10.7"/>
<circle cx="1945.7" cy="274.7" r="10.7"/>
<circle cx="1949.1" cy="264.3" r="10.7"/>
<circle cx="1952.2" cy="273.5" r="10.7"/>
<circle cx="1953.8" cy="267.0" r="10.7"/>
<circle cx="1955.9" cy="263.0" r="10.7"/>
<circle cx="1957.9" cy="264.8" r="10.7"/>
<circle cx="1961.4" cy="259.7" r="10.7"/>
<circle cx="1962.7" cy="262.5" r="10.7"/>
<circle cx="1965.3" cy="264.9" r="10.7"/>
<circle cx="1967.2" cy="267.0" r="10.7"/>
<circle cx="1969.5" cy="260.9" r="10.7"/>
<circle cx="1973.5" cy="256.2" r="10.7"/>
<circle cx="1974.5" cy="243.3" r="10.7"/>
<circle cx="1977.9" cy="254.9" r="10.7"/>
<circle cx="1979.5" cy="259.1" r="10.7"/>
<circle cx="1981.7" cy="238.6" r="10.7"/>
<circle cx="1984.6" cy="234.4" r="10.7"/>
<circle cx="1987.4" cy="243.4" r="10.7"/>
<circle cx="1990.7" cy="241.3" r="10.7"/>
<circle cx="1992.1" cy="250.7" r="10.7"/>
<circle cx="1994.6" cy="239.1" r="10.7"/>
<circle cx="1998.3" cy="237.1" r="10.7"/>
<circle cx="1999.7" cy="231.8" r="10.7"/>
<circle cx="2003.1" cy="222.7" r="10.7"/>
<circle cx="2005.5" cy="234.3" r="10.7"/>
<circle cx="2012.3" cy="226.2" r="10.7"/>
<circle cx="2017.4" cy="218.4" r="10.7"/>
<circle cx="2020.5" cy="215.9" r="10.7"/>
<circle cx="2020.8" cy="218.3" r="10.7"/>
<circle cx="2023.8" cy="215.9" r="10.7"/>
<circle cx="2031.7" cy="207.4" r="10.7"/>
<circle cx="2034.8" cy="208.3" r="10.7"/>
<circle cx="2036.0" cy="202.2" r="10.7"/>
<circle cx="2040.1" cy="199.3" r="10.7"/>
<circle cx="2041.9" cy="201.5" r="10.7"/>
<circle cx="2057.8" cy="187.0" r="10.7"/>
<circle cx="2070.6" cy="180.0" r="10.7"/>
<circle cx="2073.1" cy="179.5" r="10.7"/>
<circle cx="2078.1" cy="170.8" r="10.7"/>
<circle cx="2081.5" cy="168.2" r="10.7"/>
<circle cx="2084.1" cy="169.9" r="10.7"/>
<circle cx="2089.2" cy="159.9" r="10.7"/>
<circle cx="2096.8" cy="161.0" r="10.7"/>
<circle cx="2100.7" cy="154.8" r="10.7"/>
<circle cx="2103.0" cy="154.5" r="10.7"/>
<circle cx="2105.5" cy="146.0" r="10.7"/>
<circle cx="2106.3" cy="146.7" r="10.7"/>
<circle cx="2109.1" cy="150.5" r="10.7"/>
<circle cx="2111.0" cy="146.9" r="10.7"/>
<circle cx="2114.3" cy="146.6" r="10.7"/>
<circle cx="2117.8" cy="139.5" r="10.7"/>
<circle cx="2118.9" cy="138.3" r="10.7"/>
<circle cx="2124.0" cy="137.4" r="10.7"/>
<circle cx="2126.9" cy="138.3" r="10.7"/>
<circle cx="2130.8" cy="130.5" r="10.7"/>
<circle cx="2134.1" cy="128.4" r="10.7"/>
<circle cx="2136.1" cy="128.4" r="10.7"/>
<circle cx="2145.1" cy="119.0" r="10.7"/>
<circle cx="2148.5" cy="117.8" r="10.7"/>
<circle cx="2151.6" cy="116.4" r="10.7"/>
<circle cx="2178.9" cy="89.0" r="10.7"/>
<circle cx="2180.3" cy="93.0" r="10.7"/>
<circle cx="2182.3" cy="87.3" r="10.7"/>
<circle cx="2184.2" cy="87.2" r="10.7"/>
<circle cx="2187.7" cy="82.5" r="10.7"/>
<circle cx="2190.2" cy="80.4" r="10.7"/>
<circle cx="2195.7" cy="75.1" r="10.7"/>
<circle cx="2196.7" cy="82.1" r="10.7"/>
<circle cx="2203.3" cy="78.4" r="10.7"/>
<circle cx="2205.6" cy="69.8" r="10.7"/>
<circle cx="2210.7" cy="67.8" r="10.7"/>
<circle cx="304.5" cy="1549.0" r="10.7"/>
<circle cx="298.5" cy="1538.9" r="10.7"/>
<circle cx="318.8" cy="1542.5" r="10.7"/>
<circle cx="336.9" cy="1530.1" r="10.7"/>
<circle cx="330.6" cy="1520.2" r="10.7"/>
<circle cx="371.8" cy="1501.3" r="10.7"/>
<circle cx="370.5" cy="1486.3" r="10.7"/>
<circle cx="382.4" cy="1488.8" r="10.7"/>
<circle cx="426.5" cy="1451.7" r="10.7"/>
<circle cx="467.3" cy="1425.9" r="10.7"/>
<circle cx="480.7" cy="1415.4" r="10.7"/>
<circle cx="522.9" cy="1385.3" r="10.7"/>
<circle cx="530.3" cy="1378.3" r="10.7"/>
<circle cx="526.4" cy="1365.4" r="10.7"/>
<circle cx="543.6" cy="1368.3" r="10.7"/>
<circle cx="346.7" cy="1555.3" r="10.7"/>
<circle cx="391.0" cy="1519.9" r="10.7"/>
<circle cx="428.5" cy="1491.7" r="10.7"/>
<circle cx="449.5" cy="1476.9" r="10.7"/>
<circle cx="450.8" cy="1492.4" r="10.7"/>
<circle cx="466.6" cy="1461.0" r="10.7"/>
<circle cx="467.8" cy="1471.4" r="10.7"/>
<circle cx="477.6" cy="1452.9" r="10.7"/>
<circle cx="479.6" cy="1465.5" r="10.7"/>
<circle cx="306.8" cy="1554.8" r="10.7"/>
<circle cx="536.8" cy="1367.9" r="10.7"/>
<circle cx="591.4" cy="1327.0" r="10.7"/>
<circle cx="619.6" cy="1299.3" r="10.7"/>
<circle cx="673.7" cy="1265.8" r="10.7"/>
<circle cx="688.2" cy="1249.5" r="10.7"/>
<circle cx="705.0" cy="1238.1" r="10.7"/>
<circle cx="739.9" cy="1210.6" r="10.7"/>
<circle cx="782.5" cy="1175.4" r="10.7"/>
<circle cx="803.4" cy="1163.3" r="10.7"/>
<circle cx="538.4" cy="1402.2" r="10.7"/>
<circle cx="522.5" cy="1413.8" r="10.7"/>
<circle cx="570.3" cy="1381.1" r="10.7"/>
<circle cx="584.6" cy="1371.0" r="10.7"/>
<circle cx="591.0" cy="1384.0" r="10.7"/>
<circle cx="596.5" cy="1358.5" r="10.7"/>
<circle cx="604.5" cy="1367.3" r="10.7"/>
<circle cx="630.6" cy="1328.6" r="10.7"/>
<circle cx="671.3" cy="1300.1" r="10.7"/>
<circle cx="674.5" cy="1311.1" r="10.7"/>
<circle cx="696.9" cy="1276.4" r="10.7"/>
<circle cx="740.6" cy="1243.3" r="10.7"/>
<circle cx="760.1" cy="1230.8" r="10.7"/>
<circle cx="798.6" cy="1203.2" r="10.7"/>
<circle cx="807.4" cy="1157.9" r="10.7"/>
<circle cx="821.4" cy="1137.5" r="10.7"/>
<circle cx="852.4" cy="1125.0" r="10.7"/>
<circle cx="865.7" cy="1107.2" r="10.7"/>
<circle cx="895.8" cy="1088.8" r="10.7"/>
<circle cx="908.8" cy="1076.8" r="10.7"/>
<circle cx="1000.0" cy="1005.7" r="10.7"/>
<circle cx="992.2" cy="996.1" r="10.7"/>
<circle cx="1013.5" cy="996.6" r="10.7"/>
<circle cx="1013.1" cy="981.4" r="10.7"/>
<circle cx="1009.8" cy="968.7" r="10.7"/>
<circle cx="1059.2" cy="960.6" r="10.7"/>
<circle cx="1045.9" cy="953.8" r="10.7"/>
<circle cx="1067.2" cy="949.9" r="10.7"/>
<circle cx="805.0" cy="1193.3" r="10.7"/>
<circle cx="809.1" cy="1192.8" r="10.7"/>
<circle cx="827.3" cy="1172.8" r="10.7"/>
<circle cx="856.6" cy="1162.8" r="10.7"/>
<circle cx="871.8" cy="1139.6" r="10.7"/>
<circle cx="878.8" cy="1150.3" r="10.7"/>
<circle cx="895.9" cy="1128.8" r="10.7"/>
<circle cx="920.0" cy="1103.9" r="10.7"/>
<circle cx="937.4" cy="1093.3" r="10.7"/>
<circle cx="948.7" cy="1105.8" r="10.7"/>
<circle cx="969.2" cy="1064.8" r="10.7"/>
<circle cx="993.1" cy="1048.3" r="10.7"/>
<circle cx="996.8" cy="1041.0" r="10.7"/>
<circle cx="1016.8" cy="1024.3" r="10.7"/>
<circle cx="1023.6" cy="1034.4" r="10.7"/>
<circle cx="1060.2" cy="992.4" r="10.7"/>
<circle cx="1077.9" cy="981.4" r="10.7"/>
<circle cx="1083.8" cy="997.1" r="10.7"/>
<circle cx="1109.1" cy="955.2" r="10.7"/>
<circle cx="1106.2" cy="970.3" r="10.7"/>
<circle cx="1104.1" cy="957.3" r="10.7"/>
<circle cx="1109.0" cy="966.1" r="10.7"/>
<circle cx="1123.5" cy="943.3" r="10.7"/>
<circle cx="1129.4" cy="950.3" r="10.7"/>
<circle cx="1127.6" cy="939.7" r="10.7"/>
<circle cx="1180.1" cy="864.6" r="10.7"/>
<circle cx="1197.9" cy="845.3" r="10.7"/>
<circle cx="1202.6" cy="839.1" r="10.7"/>
<circle cx="1246.0" cy="811.3" r="10.7"/>
<circle cx="1259.2" cy="798.1" r="10.7"/>
<circle cx="1335.5" cy="740.6" r="10.7"/>
<circle cx="1362.2" cy="719.6" r="10.7"/>
<circle cx="1350.0" cy="716.0" r="10.7"/>
<circle cx="1378.3" cy="700.5" r="10.7"/>
<circle cx="1400.9" cy="688.7" r="10.7"/>
<circle cx="1415.9" cy="673.6" r="10.7"/>
<circle cx="1133.9" cy="940.9" r="10.7"/>
<circle cx="1168.5" cy="905.9" r="10.7"/>
<circle cx="1255.8" cy="834.7" r="10.7"/>
<circle cx="1261.1" cy="832.1" r="10.7"/>
<circle cx="1274.1" cy="841.3" r="10.7"/>
<circle cx="1278.3" cy="819.6" r="10.7"/>
<circle cx="1291.1" cy="828.1" r="10.7"/>
<circle cx="1294.3" cy="814.0" r="10.7"/>
<circle cx="1312.7" cy="796.7" r="10.7"/>
<circle cx="1316.5" cy="808.0" r="10.7"/>
<circle cx="1309.8" cy="794.0" r="10.7"/>
<circle cx="1379.5" cy="740.9" r="10.7"/>
<circle cx="1391.6" cy="733.0" r="10.7"/>
<circle cx="1414.4" cy="712.2" r="10.7"/>
<circle cx="1429.6" cy="705.0" r="10.7"/>
<circle cx="1430.9" cy="720.0" r="10.7"/>
<circle cx="1443.3" cy="695.3" r="10.7"/>
<circle cx="1458.3" cy="679.4" r="10.7"/>
<circle cx="1459.0" cy="690.5" r="10.7"/>
<circle cx="1472.3" cy="670.8" r="10.7"/>
<circle cx="1467.6" cy="670.0" r="10.7"/>
<circle cx="1477.1" cy="679.2" r="10.7"/>
<circle cx="1473.7" cy="632.4" r="10.7"/>
<circle cx="1501.0" cy="603.1" r="10.7"/>
<circle cx="1523.1" cy="588.4" r="10.7"/>
<circle cx="1547.0" cy="572.2" r="10.7"/>
<circle cx="1549.3" cy="567.5" r="10.7"/>
<circle cx="1553.3" cy="550.5" r="10.7"/>
<circle cx="1556.4" cy="565.1" r="10.7"/>
<circle cx="1554.2" cy="554.4" r="10.7"/>
<circle cx="1559.0" cy="539.9" r="10.7"/>
<circle cx="1653.5" cy="483.0" r="10.7"/>
<circle cx="1721.4" cy="438.0" r="10.7"/>
<circle cx="1741.7" cy="421.7" r="10.7"/>
<circle cx="1735.3" cy="406.4" r="10.7"/>
<circle cx="1761.1" cy="401.9" r="10.7"/>
<circle cx="1785.9" cy="378.2" r="10.7"/>
<circle cx="1806.8" cy="367.0" r="10.7"/>
<circle cx="1476.8" cy="663.3" r="10.7"/>
<circle cx="1505.1" cy="643.9" r="10.7"/>
<circle cx="1519.5" cy="635.1" r="10.7"/>
<circle cx="1532.8" cy="618.3" r="10.7"/>
<circle cx="1552.4" cy="602.3" r="10.7"/>
<circle cx="1565.6" cy="597.1" r="10.7"/>
<circle cx="1602.1" cy="565.7" r="10.7"/>
<circle cx="1609.7" cy="574.9" r="10.7"/>
<circle cx="1607.8" cy="585.1" r="10.7"/>
<circle cx="1607.2" cy="563.7" r="10.7"/>
<circle cx="1627.4" cy="548.1" r="10.7"/>
<circle cx="1693.5" cy="497.9" r="10.7"/>
<circle cx="1730.8" cy="462.0" r="10.7"/>
<circle cx="1745.9" cy="449.1" r="10.7"/>
<circle cx="1771.5" cy="429.7" r="10.7"/>
<circle cx="1774.9" cy="442.4" r="10.7"/>
<circle cx="1791.1" cy="419.3" r="10.7"/>
<circle cx="1790.0" cy="432.1" r="10.7"/>
<circle cx="1823.4" cy="358.7" r="10.7"/>
<circle cx="1824.5" cy="341.6" r="10.7"/>
<circle cx="1840.7" cy="336.3" r="10.7"/>
<circle cx="1858.2" cy="330.7" r="10.7"/>
<circle cx="1853.4" cy="319.2" r="10.7"/>
<circle cx="1855.8" cy="330.9" r="10.7"/>
<circle cx="1891.7" cy="302.4" r="10.7"/>
<circle cx="1947.5" cy="257.5" r="10.7"/>
<circle cx="1936.9" cy="252.7" r="10.7"/>
<circle cx="1960.0" cy="250.3" r="10.7"/>
<circle cx="1980.1" cy="227.0" r="10.7"/>
<circle cx="1995.6" cy="220.3" r="10.7"/>
<circle cx="2044.6" cy="177.9" r="10.7"/>
<circle cx="2068.5" cy="158.1" r="10.7"/>
<circle cx="2079.1" cy="154.2" r="10.7"/>
<circle cx="2071.8" cy="150.4" r="10.7"/>
<circle cx="2093.7" cy="133.7" r="10.7"/>
<circle cx="2133.6" cy="104.4" r="10.7"/>
<circle cx="2164.0" cy="84.1" r="10.7"/>
<circle cx="1803.1" cy="402.7" r="10.7"/>
<circle cx="1849.1" cy="378.7" r="10.7"/>
<circle cx="1883.6" cy="344.1" r="10.7"/>
<circle cx="1915.9" cy="322.5" r="10.7"/>
<circle cx="1918.2" cy="336.6" r="10.7"/>
<circle cx="1914.9" cy="320.9" r="10.7"/>
<circle cx="1946.3" cy="299.8" r="10.7"/>
<circle cx="1961.7" cy="280.6" r="10.7"/>
<circle cx="1962.1" cy="298.2" r="10.7"/>
<circle cx="1965.6" cy="305.7" r="10.7"/>
<circle cx="1966.1" cy="282.7" r="10.7"/>
<circle cx="1980.6" cy="266.9" r="10.7"/>
<circle cx="2012.5" cy="241.4" r="10.7"/>
<circle cx="2030.8" cy="228.2" r="10.7"/>
<circle cx="2035.6" cy="231.8" r="10.7"/>
<circle cx="2094.5" cy="178.2" r="10.7"/>
<circle cx="2114.2" cy="159.9" r="10.7"/>
<circle cx="2113.4" cy="175.8" r="10.7"/>
<circle cx="287.5" cy="1531.4" r="10.7"/>
<circle cx="309.0" cy="1527.5" r="10.7"/>
<circle cx="284.6" cy="1560.7" r="10.7"/>
<circle cx="333.4" cy="1506.0" r="10.7"/>
<circle cx="365.7" cy="1475.7" r="10.7"/>
<circle cx="384.3" cy="1475.7" r="10.7"/>
<circle cx="419.5" cy="1443.4" r="10.7"/>
<circle cx="446.8" cy="1438.5" r="10.7"/>
<circle cx="466.4" cy="1414.1" r="10.7"/>
<circle cx="482.0" cy="1397.5" r="10.7"/>
<circle cx="517.2" cy="1376.9" r="10.7"/>
<circle cx="521.1" cy="1356.4" r="10.7"/>
<circle cx="538.7" cy="1355.4" r="10.7"/>
<circle cx="290.4" cy="1586.1" r="10.7"/>
<circle cx="304.1" cy="1586.1" r="10.7"/>
<circle cx="323.7" cy="1582.2" r="10.7"/>
<circle cx="341.3" cy="1564.6" r="10.7"/>
<circle cx="354.9" cy="1564.6" r="10.7"/>
<circle cx="349.1" cy="1543.1" r="10.7"/>
<circle cx="379.4" cy="1533.4" r="10.7"/>
<circle cx="396.0" cy="1527.5" r="10.7"/>
<circle cx="433.2" cy="1506.0" r="10.7"/>
<circle cx="452.7" cy="1504.0" r="10.7"/>
<circle cx="470.3" cy="1484.5" r="10.7"/>
<circle cx="483.0" cy="1474.7" r="10.7"/>
<circle cx="484.0" cy="1457.1" r="10.7"/>
<circle cx="519.2" cy="1427.8" r="10.7"/>
<circle cx="534.8" cy="1416.0" r="10.7"/>
<circle cx="298.2" cy="1549.0" r="10.7"/>
<circle cx="313.9" cy="1554.9" r="10.7"/>
<circle cx="329.5" cy="1550.9" r="10.7"/>
<circle cx="300.2" cy="1570.5" r="10.7"/>
<circle cx="323.7" cy="1537.3" r="10.7"/>
<circle cx="532.8" cy="1357.3" r="10.7"/>
<circle cx="557.3" cy="1345.5" r="10.7"/>
<circle cx="573.9" cy="1333.8" r="10.7"/>
<circle cx="592.5" cy="1309.4" r="10.7"/>
<circle cx="617.9" cy="1287.8" r="10.7"/>
<circle cx="644.3" cy="1290.8" r="10.7"/>
<circle cx="658.0" cy="1266.3" r="10.7"/>
<circle cx="668.7" cy="1255.6" r="10.7"/>
<circle cx="689.2" cy="1237.0" r="10.7"/>
<circle cx="698.0" cy="1226.3" r="10.7"/>
<circle cx="720.5" cy="1222.3" r="10.7"/>
<circle cx="732.7" cy="1202.8" r="10.7"/>
<circle cx="761.6" cy="1189.1" r="10.7"/>
<circle cx="785.1" cy="1161.7" r="10.7"/>
<circle cx="798.7" cy="1153.9" r="10.7"/>
<circle cx="540.6" cy="1414.0" r="10.7"/>
<circle cx="530.9" cy="1423.7" r="10.7"/>
<circle cx="575.8" cy="1395.4" r="10.7"/>
<circle cx="589.5" cy="1397.3" r="10.7"/>
<circle cx="611.0" cy="1375.8" r="10.7"/>
<circle cx="616.9" cy="1341.6" r="10.7"/>
<circle cx="640.4" cy="1336.7" r="10.7"/>
<circle cx="659.9" cy="1314.2" r="10.7"/>
<circle cx="679.5" cy="1318.2" r="10.7"/>
<circle cx="701.0" cy="1287.8" r="10.7"/>
<circle cx="693.2" cy="1286.9" r="10.7"/>
<circle cx="716.6" cy="1270.3" r="10.7"/>
<circle cx="751.8" cy="1253.6" r="10.7"/>
<circle cx="763.5" cy="1241.9" r="10.7"/>
<circle cx="775.3" cy="1218.4" r="10.7"/>
<circle cx="798.7" cy="1216.5" r="10.7"/>
<circle cx="797.6" cy="1144.0" r="10.7"/>
<circle cx="817.7" cy="1125.2" r="10.7"/>
<circle cx="844.1" cy="1113.9" r="10.7"/>
<circle cx="862.9" cy="1091.2" r="10.7"/>
<circle cx="888.1" cy="1078.7" r="10.7"/>
<circle cx="910.7" cy="1061.1" r="10.7"/>
<circle cx="933.3" cy="1052.3" r="10.7"/>
<circle cx="948.4" cy="1044.7" r="10.7"/>
<circle cx="971.0" cy="1023.4" r="10.7"/>
<circle cx="986.1" cy="1007.0" r="10.7"/>
<circle cx="987.4" cy="981.9" r="10.7"/>
<circle cx="1012.5" cy="954.2" r="10.7"/>
<circle cx="1038.9" cy="944.2" r="10.7"/>
<circle cx="1059.0" cy="944.2" r="10.7"/>
<circle cx="1086.7" cy="936.6" r="10.7"/>
<circle cx="1104.3" cy="915.3" r="10.7"/>
<circle cx="1121.9" cy="902.7" r="10.7"/>
<circle cx="1137.0" cy="888.9" r="10.7"/>
<circle cx="802.6" cy="1214.4" r="10.7"/>
<circle cx="817.7" cy="1199.3" r="10.7"/>
<circle cx="835.3" cy="1181.7" r="10.7"/>
<circle cx="857.9" cy="1175.4" r="10.7"/>
<circle cx="890.6" cy="1160.4" r="10.7"/>
<circle cx="898.1" cy="1140.3" r="10.7"/>
<circle cx="920.8" cy="1116.4" r="10.7"/>
<circle cx="957.2" cy="1112.6" r="10.7"/>
<circle cx="950.9" cy="1088.7" r="10.7"/>
<circle cx="978.6" cy="1076.1" r="10.7"/>
<circle cx="998.7" cy="1061.1" r="10.7"/>
<circle cx="1003.7" cy="1048.5" r="10.7"/>
<circle cx="1031.4" cy="1042.2" r="10.7"/>
<circle cx="1064.1" cy="1010.8" r="10.7"/>
<circle cx="1086.7" cy="1009.5" r="10.7"/>
<circle cx="1105.5" cy="990.7" r="10.7"/>
<circle cx="1119.4" cy="973.1" r="10.7"/>
<circle cx="1134.4" cy="960.5" r="10.7"/>
<circle cx="1142.0" cy="953.0" r="10.7"/>
<circle cx="1137.6" cy="889.6" r="10.7"/>
<circle cx="1165.2" cy="874.5" r="10.7"/>
<circle cx="1175.3" cy="851.9" r="10.7"/>
<circle cx="1195.4" cy="834.3" r="10.7"/>
<circle cx="1202.9" cy="821.7" r="10.7"/>
<circle cx="1223.0" cy="826.7" r="10.7"/>
<circle cx="1240.6" cy="804.1" r="10.7"/>
<circle cx="1254.5" cy="789.0" r="10.7"/>
<circle cx="1288.4" cy="768.9" r="10.7"/>
<circle cx="1321.1" cy="748.8" r="10.7"/>
<circle cx="1338.7" cy="726.2" r="10.7"/>
<circle cx="1348.7" cy="703.6" r="10.7"/>
<circle cx="1368.9" cy="692.2" r="10.7"/>
<circle cx="1401.5" cy="675.9" r="10.7"/>
<circle cx="1407.8" cy="668.4" r="10.7"/>
<circle cx="1426.7" cy="663.3" r="10.7"/>
<circle cx="1444.3" cy="649.5" r="10.7"/>
<circle cx="1461.9" cy="640.7" r="10.7"/>
<circle cx="1477.0" cy="628.1" r="10.7"/>
<circle cx="1135.1" cy="955.0" r="10.7"/>
<circle cx="1140.1" cy="934.8" r="10.7"/>
<circle cx="1175.3" cy="914.7" r="10.7"/>
<circle cx="1190.4" cy="889.6" r="10.7"/>
<circle cx="1213.0" cy="873.3" r="10.7"/>
<circle cx="1238.1" cy="851.9" r="10.7"/>
<circle cx="1260.8" cy="844.3" r="10.7"/>
<circle cx="1278.4" cy="850.6" r="10.7"/>
<circle cx="1293.4" cy="844.3" r="10.7"/>
<circle cx="1301.0" cy="821.7" r="10.7"/>
<circle cx="1318.6" cy="826.7" r="10.7"/>
<circle cx="1316.1" cy="809.1" r="10.7"/>
<circle cx="1338.7" cy="776.5" r="10.7"/>
<circle cx="1358.8" cy="761.4" r="10.7"/>
<circle cx="1378.9" cy="753.8" r="10.7"/>
<circle cx="1396.5" cy="742.5" r="10.7"/>
<circle cx="1421.6" cy="726.2" r="10.7"/>
<circle cx="1435.5" cy="735.0" r="10.7"/>
<circle cx="1446.8" cy="709.8" r="10.7"/>
<circle cx="1461.9" cy="703.6" r="10.7"/>
<circle cx="1477.0" cy="678.4" r="10.7"/>
<circle cx="1482.0" cy="688.5" r="10.7"/>
<circle cx="1467.5" cy="614.1" r="10.7"/>
<circle cx="1497.7" cy="588.9" r="10.7"/>
<circle cx="1512.8" cy="578.9" r="10.7"/>
<circle cx="1537.9" cy="562.5" r="10.7"/>
<circle cx="1548.0" cy="536.1" r="10.7"/>
<circle cx="1555.0" cy="526.1" r="10.7"/>
<circle cx="1583.2" cy="538.6" r="10.7"/>
<circle cx="1605.8" cy="521.0" r="10.7"/>
<circle cx="1618.4" cy="518.5" r="10.7"/>
<circle cx="1638.5" cy="502.2" r="10.7"/>
<circle cx="1649.8" cy="470.8" r="10.7"/>
<circle cx="1674.9" cy="464.5" r="10.7"/>
<circle cx="1703.8" cy="445.6" r="10.7"/>
<circle cx="1718.9" cy="423.0" r="10.7"/>
<circle cx="1726.5" cy="397.8" r="10.7"/>
<circle cx="1726.5" cy="380.3" r="10.7"/>
<circle cx="1736.5" cy="376.5" r="10.7"/>
<circle cx="1754.1" cy="392.8" r="10.7"/>
<circle cx="1778.0" cy="367.7" r="10.7"/>
<circle cx="1801.9" cy="357.6" r="10.7"/>
<circle cx="1819.5" cy="355.1" r="10.7"/>
<circle cx="1480.1" cy="684.4" r="10.7"/>
<circle cx="1470.0" cy="676.9" r="10.7"/>
<circle cx="1510.3" cy="660.6" r="10.7"/>
<circle cx="1522.8" cy="651.8" r="10.7"/>
<circle cx="1535.4" cy="631.6" r="10.7"/>
<circle cx="1558.0" cy="614.1" r="10.7"/>
<circle cx="1573.1" cy="606.5" r="10.7"/>
<circle cx="1588.2" cy="583.9" r="10.7"/>
<circle cx="1618.4" cy="592.7" r="10.7"/>
<circle cx="1615.8" cy="576.3" r="10.7"/>
<circle cx="1630.9" cy="563.3" r="10.7"/>
<circle cx="1613.3" cy="548.7" r="10.7"/>
<circle cx="1651.0" cy="528.6" r="10.7"/>
<circle cx="1673.7" cy="508.5" r="10.7"/>
<circle cx="1698.8" cy="505.9" r="10.7"/>
<circle cx="1716.4" cy="483.3" r="10.7"/>
<circle cx="1737.8" cy="470.8" r="10.7"/>
<circle cx="1751.6" cy="460.7" r="10.7"/>
<circle cx="1791.8" cy="467.0" r="10.7"/>
<circle cx="1781.8" cy="455.7" r="10.7"/>
<circle cx="1794.3" cy="440.6" r="10.7"/>
<circle cx="1779.2" cy="428.0" r="10.7"/>
<circle cx="1811.9" cy="407.9" r="10.7"/>
<circle cx="1817.0" cy="400.4" r="10.7"/>
<circle cx="1815.1" cy="335.0" r="10.7"/>
<circle cx="1832.7" cy="328.7" r="10.7"/>
<circle cx="1847.7" cy="306.1" r="10.7"/>
<circle cx="1855.3" cy="317.4" r="10.7"/>
<circle cx="1885.4" cy="292.3" r="10.7"/>
<circle cx="1900.5" cy="294.8" r="10.7"/>
<circle cx="1919.4" cy="270.9" r="10.7"/>
<circle cx="1935.7" cy="239.5" r="10.7"/>
<circle cx="1955.8" cy="239.5" r="10.7"/>
<circle cx="1969.7" cy="223.1" r="10.7"/>
<circle cx="1986.0" cy="216.8" r="10.7"/>
<circle cx="2001.1" cy="210.6" r="10.7"/>
<circle cx="2026.2" cy="186.7" r="10.7"/>
<circle cx="2038.3" cy="166.6" r="10.7"/>
<circle cx="2058.9" cy="149.0" r="10.7"/>
<circle cx="2074.0" cy="131.4" r="10.7"/>
<circle cx="2090.3" cy="122.6" r="10.7"/>
<circle cx="2101.6" cy="91.1" r="10.7"/>
<circle cx="2100.4" cy="72.3" r="10.7"/>
<circle cx="2131.8" cy="91.1" r="10.7"/>
<circle cx="2157.0" cy="73.5" r="10.7"/>
<circle cx="1813.8" cy="409.2" r="10.7"/>
<circle cx="1832.7" cy="387.8" r="10.7"/>
<circle cx="1852.8" cy="389.0" r="10.7"/>
<circle cx="1861.6" cy="367.7" r="10.7"/>
<circle cx="1889.2" cy="357.6" r="10.7"/>
<circle cx="1918.1" cy="352.6" r="10.7"/>
<circle cx="1918.1" cy="332.5" r="10.7"/>
<circle cx="1950.8" cy="309.9" r="10.7"/>
<circle cx="1965.9" cy="322.4" r="10.7"/>
<circle cx="1983.5" cy="317.4" r="10.7"/>
<circle cx="1970.9" cy="297.3" r="10.7"/>
<circle cx="1993.5" cy="277.2" r="10.7"/>
<circle cx="2013.7" cy="257.1" r="10.7"/>
<circle cx="2040.1" cy="244.5" r="10.7"/>
<circle cx="2036.3" cy="226.9" r="10.7"/>
<circle cx="2063.9" cy="210.6" r="10.7"/>
<circle cx="2092.8" cy="196.7" r="10.7"/>
<circle cx="2094.1" cy="179.1" r="10.7"/>
<circle cx="2116.7" cy="184.2" r="10.7"/>
<circle cx="2129.3" cy="149.0" r="10.7"/>
<circle cx="2149.4" cy="131.4" r="10.7"/>
<circle cx="2162.0" cy="126.3" r="10.7"/>
<circle cx="477.7" cy="1367.2" r="10.7"/>
<circle cx="521.1" cy="1453.2" r="10.7"/>
<circle cx="521.1" cy="1461.0" r="10.7"/>
<circle cx="544.6" cy="1531.4" r="10.7"/>
<circle cx="631.6" cy="1196.9" r="10.7"/>
<circle cx="586.6" cy="1237.0" r="10.7"/>
<circle cx="532.8" cy="1252.7" r="10.7"/>
<circle cx="643.9" cy="1423.7" r="10.7"/>
<circle cx="786.3" cy="912.2" r="10.7"/>
<circle cx="1003.0" cy="914.5" r="10.7"/>
<circle cx="1041.9" cy="920.3" r="10.7"/>
<circle cx="924.8" cy="980.1" r="10.7"/>
<circle cx="974.1" cy="1157.3" r="10.7"/>
<circle cx="1391.0" cy="618.1" r="10.7"/>
<circle cx="1468.9" cy="614.3" r="10.7"/>
<circle cx="1125.0" cy="712.4" r="10.7"/>
<circle cx="1264.5" cy="753.3" r="10.7"/>
<circle cx="1292.2" cy="747.6" r="10.7"/>
<circle cx="1469.4" cy="769.4" r="10.7"/>
<circle cx="1203.4" cy="927.8" r="10.7"/>
<circle cx="1595.7" cy="401.6" r="10.7"/>
<circle cx="1587.7" cy="469.5" r="10.7"/>
<circle cx="1509.7" cy="540.6" r="10.7"/>
<circle cx="1808.2" cy="505.2" r="10.7"/>
<circle cx="1707.6" cy="526.8" r="10.7"/>
<circle cx="1758.6" cy="349.6" r="10.7"/>
<circle cx="1823.2" cy="450.6" r="10.7"/>
<circle cx="1815.7" cy="336.3" r="10.7"/>
<circle cx="2003.6" cy="102.5" r="10.7"/>
<circle cx="1991.0" cy="188.4" r="10.7"/>
<circle cx="1940.3" cy="201.0" r="10.7"/>
<circle cx="1824.6" cy="293.0" r="10.7"/>
<circle cx="1969.7" cy="352.6" r="10.7"/>
<circle cx="2019.9" cy="280.9" r="10.7"/>
<circle cx="2070.2" cy="286.0" r="10.7"/>
<circle cx="2070.2" cy="298.5" r="10.7"/>
<circle cx="2097.9" cy="225.6" r="10.7"/>
<circle cx="2096.6" cy="245.7" r="10.7"/>
<circle cx="1877.4" cy="390.8" r="10.7"/>
<circle cx="2146.9" cy="166.6" r="10.7"/>
<circle cx="2134.3" cy="186.7" r="10.7"/>
<circle cx="2212.3" cy="66.7" r="10.7"/>
<circle cx="2224.0" cy="62.8" r="10.7"/>
<circle cx="2217.2" cy="47.2" r="10.7"/>
<circle cx="2231.9" cy="84.3" r="10.7"/>
<circle cx="2222.1" cy="76.5" r="10.7"/>
<circle cx="2226.0" cy="117.5" r="10.7"/>
<circle cx="2217.2" cy="156.3" r="10.7"/>
<circle cx="2200.6" cy="245.6" r="10.7"/>
<circle cx="2179.1" cy="150.8" r="10.7"/>
<circle cx="2174.2" cy="135.1" r="10.7"/>
<circle cx="2160.5" cy="65.7" r="10.7"/>
<circle cx="2182.0" cy="63.8" r="10.7"/>
<circle cx="2169.3" cy="84.3" r="10.7"/>
<circle cx="2099.9" cy="71.6" r="10.7"/>
<circle cx="2104.8" cy="90.2" r="10.7"/>
<circle cx="2132.1" cy="91.1" r="10.7"/>
<circle cx="2141.9" cy="98.0" r="10.7"/>
<circle cx="2112.6" cy="107.8" r="10.7"/>
<circle cx="2091.1" cy="123.4" r="10.7"/>
<circle cx="2075.4" cy="131.2" r="10.7"/>
<circle cx="2069.6" cy="146.9" r="10.7"/>
<circle cx="2038.3" cy="166.4" r="10.7"/>
<circle cx="2028.5" cy="186.0" r="10.7"/>
<circle cx="2147.8" cy="167.4" r="10.7"/>
<circle cx="2134.1" cy="186.0" r="10.7"/>
<circle cx="2116.5" cy="184.0" r="10.7"/>
<circle cx="2092.1" cy="197.7" r="10.7"/>
<circle cx="2071.5" cy="207.5" r="10.7"/>
<circle cx="2059.8" cy="211.4" r="10.7"/>
<circle cx="2096.9" cy="226.1" r="10.7"/>
<circle cx="2096.0" cy="246.6" r="10.7"/>
<circle cx="2040.2" cy="244.6" r="10.7"/>
<circle cx="2014.8" cy="256.4" r="10.7"/>
<circle cx="2020.7" cy="280.8" r="10.7"/>
<circle cx="2070.5" cy="285.7" r="10.7"/>
<circle cx="2183.0" cy="107.8" r="10.7"/>
<circle cx="2202.5" cy="98.0" r="10.7"/>
<circle cx="2149.7" cy="131.2" r="10.7"/>
<circle cx="2124.3" cy="158.6" r="10.7"/>
<circle cx="2012.9" cy="225.1" r="10.7"/>
<circle cx="2036.3" cy="221.2" r="10.7"/>
<circle cx="605.3" cy="1140.3" r="10.7"/>
<circle cx="1057.3" cy="726.7" r="10.7"/>
<circle cx="690.3" cy="1448.0" r="10.7"/>
<circle cx="1867.4" cy="440.4" r="10.7"/>
</g>
<line x1="285.4" y1="1586.9" x2="2233.0" y2="50.3" stroke="#1c6db8" stroke-width="2.1"/>
<g class="t" text-anchor="middle">
<text x="284.4" y="1672.6">20</text>
<text x="772.5" y="1672.6">25</text>
<text x="1260.6" y="1672.6">30</text>
<text x="1748.7" y="1672.6">35</text>
<text x="2236.8" y="1672.6">40</text>
</g>
<g class="t" text-anchor="end">
<text x="260.0" y="1611.4">20</text>
<text x="260.0" y="1457.4">22</text>
<text x="260.0" y="1303.3">24</text>
<text x="260.0" y="1149.2">26</text>
<text x="260.0" y="995.2">28</text>
<text x="260.0" y="841.2">30</text>
<text x="260.0" y="687.1">32</text>
<text x="260.0" y="533.1">34</text>
<text x="260.0" y="379.0">36</text>
<text x="260.0" y="225.0">38</text>
<text x="260.0" y="70.9">40</text>
</g>
<text class="l" text-anchor="middle" x="1260.8" y="1759.3">The incident location (mm)</text>
<text class="l" text-anchor="middle" transform="translate(161.0 817.0) rotate(-90)">ANN method(mm)</text>
</g>
<text class="c" text-anchor="middle" transform="translate(1220.8 1933.6) scale(.965 1)"><tspan>(</tspan><tspan font-weight="bold">a</tspan><tspan>)</tspan></text>
<g id="plot-b">
<path d="M285.4 3733.3L285.4 3732.8L334.2 3732.8L334.2 3732.8L383.0 3732.8L383.0 3726.1L431.8 3726.1L431.8 3728.7L480.6 3728.7L480.6 3728.7L529.4 3728.7L529.4 3722.0L578.2 3722.0L578.2 3722.0L627.0 3722.0L627.0 3719.5L675.9 3719.5L675.9 3715.4L724.7 3715.4L724.7 3711.8L773.5 3711.8L773.5 3701.1L822.3 3701.1L822.3 3683.2L871.1 3683.2L871.1 3666.3L919.9 3666.3L919.9 3630.0L968.7 3630.0L968.7 3574.2L1017.5 3574.2L1017.5 3451.9L1066.3 3451.9L1066.3 3280.6L1115.2 3280.6L1115.2 3014.5L1164.0 3014.5L1164.0 2711.2L1212.8 2711.2L1212.8 2388.9L1261.6 2388.9L1261.6 2401.7L1310.4 2401.7L1310.4 2639.1L1359.2 2639.1L1359.2 3032.5L1408.0 3032.5L1408.0 3278.0L1456.9 3278.0L1456.9 3467.3L1505.7 3467.3L1505.7 3576.8L1554.5 3576.8L1554.5 3636.6L1603.3 3636.6L1603.3 3679.1L1652.1 3679.1L1652.1 3688.3L1700.9 3688.3L1700.9 3715.4L1749.7 3715.4L1749.7 3707.7L1798.5 3707.7L1798.5 3720.5L1847.3 3720.5L1847.3 3718.0L1896.2 3718.0L1896.2 3724.1L1945.0 3724.1L1945.0 3725.6L1993.8 3725.6L1993.8 3723.6L2042.6 3723.6L2042.6 3725.6L2091.4 3725.6L2091.4 3730.7L2140.2 3730.7L2140.2 3728.2L2189.0 3728.2L2189.0 3728.2L2237.8 3728.2L2237.8 3733.3" fill="none" stroke="#0000ff" stroke-width="9" stroke-linejoin="miter" stroke-linecap="square"/>
<path d="M285.4 3733.3L309.8 3733.3L358.6 3733.3L407.4 3733.3L456.2 3733.3L505.0 3733.3L553.8 3733.3L602.6 3733.3L651.4 3733.3L700.3 3733.3L749.1 3733.1L797.9 3732.5L846.7 3729.7L895.5 3719.9L944.3 3691.4L993.1 3622.1L1041.9 3482.2L1090.8 3251.7L1139.6 2948.2L1188.4 2645.5L1237.2 2452.2L1286.0 2450.9L1334.8 2642.3L1383.6 2944.4L1432.4 3248.4L1481.3 3480.0L1530.1 3620.9L1578.9 3690.9L1627.7 3719.7L1676.5 3729.6L1725.3 3732.4L1774.1 3733.1L1822.9 3733.3L1871.8 3733.3L1920.6 3733.3L1969.4 3733.3L2018.2 3733.3L2067.0 3733.3L2115.8 3733.3L2164.6 3733.3L2213.4 3733.3L2237.8 3733.3" fill="none" stroke="#ff0000" stroke-width="11.5" stroke-linejoin="round"/>
<path d="M285.35 2201.00H2236.45" stroke="#b4b4b4" stroke-width="2.2" fill="none"/>
<path d="M282.85 2197.20V3724.30" stroke="#ececec" stroke-width="2.4" fill="none"/>
<path d="M2235.35 2200.00V3731.90" stroke="#e4e4e4" stroke-width="2.4" fill="none"/>
<g stroke="#262626" stroke-width="2.8" fill="none">
<path d="M283.95 2198.60H2239.25" stroke="#4a4a4a"/>
<path d="M285.35 2198.60V3734.70M2237.85 2198.60V3734.70"/>
<path d="M285.35 3733.30H2237.85" stroke-opacity="0.55"/>
<path d="M529.41 3733.30v-21M529.41 2198.60v21M773.48 3733.30v-21M773.48 2198.60v21M1017.54 3733.30v-21M1017.54 2198.60v21M1261.60 3733.30v-21M1261.60 2198.60v21M1505.66 3733.30v-21M1505.66 2198.60v21M1749.72 3733.30v-21M1749.72 2198.60v21M1993.79 3733.30v-21M1993.79 2198.60v21M285.35 3477.52h21M2237.85 3477.52h-21M285.35 3221.73h21M2237.85 3221.73h-21M285.35 2965.95h21M2237.85 2965.95h-21M285.35 2710.17h21M2237.85 2710.17h-21M285.35 2454.38h21M2237.85 2454.38h-21" stroke-width="2.6"/>
</g>
<g class="t" text-anchor="middle">
<text x="283.4" y="3818.3">-2</text>
<text x="527.4" y="3818.3">-1.5</text>
<text x="771.5" y="3818.3">-1</text>
<text x="1015.5" y="3818.3">-0.5</text>
<text x="1261.6" y="3818.3">0</text>
<text x="1505.7" y="3818.3">0.5</text>
<text x="1749.7" y="3818.3">1</text>
<text x="1993.8" y="3818.3">1.5</text>
<text x="2237.8" y="3818.3">2</text>
</g>
<g class="t" text-anchor="end">
<text x="260.0" y="3757.8">0</text>
<text x="260.0" y="3502.0">500</text>
<text x="260.0" y="3246.2">1000</text>
<text x="260.0" y="2990.4">1500</text>
<text x="260.0" y="2734.7">2000</text>
<text x="260.0" y="2478.9">2500</text>
<text x="260.0" y="2223.1">3000</text>
</g>
<text class="l" text-anchor="start" x="1034.0" y="3905.3">P<tspan font-size="52.5" dy="32">ANN</tspan><tspan dy="-32">-P</tspan><tspan font-size="52.5" dy="32">trk</tspan><tspan dy="-32"> (mm)</tspan></text>
<text class="l" text-anchor="middle" transform="translate(93.0 2966.0) rotate(-90)">Count</text>
<text class="n" text-anchor="end" transform="translate(2229.3 2336.3) scale(.972 1)">Mean = 0.001574</text>
<text class="n" text-anchor="start" transform="translate(1553.5 2488.5) scale(.962 1)" xml:space="preserve">Sigma =  0.3461</text>
</g>
<text class="c" text-anchor="middle" transform="translate(1220.6 4088.3) scale(.965 1)"><tspan>(</tspan><tspan font-weight="bold">b</tspan><tspan>)</tspan></text>
</svg></body></html>
